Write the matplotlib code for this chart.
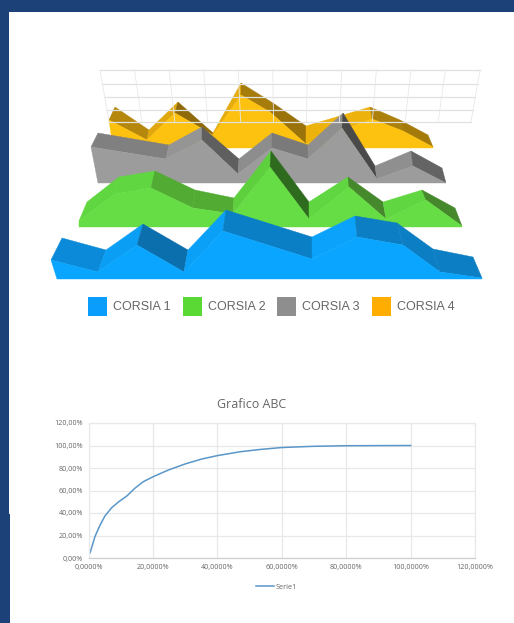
import matplotlib
matplotlib.use("Agg")
import matplotlib.pyplot as plt
from matplotlib.patches import Polygon, Rectangle
from matplotlib.ticker import FuncFormatter

W, H = 514, 623

# ridge lines, in image pixels
corsia1_front_x = [51, 98, 137, 184, 223, 312, 357, 403, 440, 482]
corsia1_front_y = [260, 272, 245, 272, 231, 259, 237, 245, 272, 278]
corsia1_back_x = [62, 106, 143, 188, 226, 312, 355, 397, 433, 473]
corsia1_back_y = [238, 250, 224, 250, 210, 237, 216, 223, 249, 257]

corsia2_front_x = [79, 115, 151, 193, 233, 270, 309, 349, 386, 426, 462]
corsia2_front_y = [221, 194, 188, 208, 214, 167, 219, 187, 219, 200, 226]
corsia2_back_x = [87, 119, 155, 195, 234, 271, 309, 348, 383, 422, 455]
corsia2_back_y = [202, 177, 171, 190, 198, 151, 202, 177, 202, 190, 208]

corsia3_front_x = [91, 166, 202, 238, 272, 308, 342, 377, 413, 446]
corsia3_front_y = [147, 159, 140, 174, 148, 159, 128, 179, 166, 183]
corsia3_back_x = [98, 169, 202, 239, 272, 308, 343, 375, 411, 442]
corsia3_back_y = [133, 145, 127, 159, 133, 145, 113, 166, 151, 168]

corsia4_front_x = [109, 147, 175, 213, 241, 270, 306, 372, 403, 433]
corsia4_front_y = [120, 140, 113, 135, 95, 112, 144, 119, 131, 147]
corsia4_back_x = [115, 149, 178, 213, 241, 273, 306, 370, 400, 428]
corsia4_back_y = [107, 130, 102, 133, 83, 103, 126, 107, 120, 135]

legend_names = ["CORSIA 1", "CORSIA 2", "CORSIA 3", "CORSIA 4"]

# cumulative curve of the ABC chart, in percent
abc_x = [0.5, 2, 3.6, 5.1, 7.2, 9.3, 11.9, 14.4, 17, 20.1, 24.8, 30, 35.2, 40, 47, 53, 60, 70, 80, 100]
abc_y = [4.7, 19, 29.3, 37.3, 44.7, 49.8, 55.1, 62, 67.8, 72.3, 78.2, 83.6, 88, 91, 94.4, 96.4, 98.2, 99.3, 99.8, 100]
abc_ticks_x = [0, 20, 40, 60, 80, 100, 120]
abc_ticks_y = [0, 20, 40, 60, 80, 100, 120]

navy = "#1c4078"
blue_top = ["#0a8ad8", "#0a9ff5", "#0b6fae", "#0aa0f7", "#0a7fc6", "#0aa2fa", "#0c7ec4", "#0c7ec4", "#0c7ec4"]
green_top = ["#60d640", "#60d640", "#52ab33", "#52ab33", "#5ed03e", "#2f6b1e", "#60d640", "#46882c", "#60d640", "#46882c"]
gray_top = ["#808080", "#959595", "#5f5f5f", "#8d8d8d", "#7a7a7a", "#8f8f8f", "#4a4a4a", "#8f8f8f", "#646464"]
amber_top = ["#b5870c", "#e0a80e", "#8f6a0a", "#e5ac0d", "#a67c0b", "#9a730b", "#eeb20d", "#ab810c", "#a47b0b"]


def draw_area(ax, fx, fy, bx, by, base_left, base, face, tops):
    for i in range(len(fx) - 1):
        quad = [(bx[i], by[i]), (bx[i + 1], by[i + 1]), (fx[i + 1], fy[i + 1]), (fx[i], fy[i])]
        ax.add_patch(Polygon(quad, closed=True, fc=tops[i], ec=tops[i], lw=0.3))
    pts = list(zip(fx, fy)) + [(fx[-1], base), (base_left, base)]
    ax.add_patch(Polygon(pts, closed=True, fc=face, ec=face, lw=0.3))


fig = plt.figure(figsize=(W / 100, H / 100), dpi=100, facecolor=navy)

# whole figure canvas in image pixels, for the page and the 3D picture
bg = fig.add_axes([0, 0, 1, 1])
bg.set_xlim(0, W)
bg.set_ylim(H, 0)
bg.axis("off")
bg.add_patch(Rectangle((9, 12), W - 9, 502, fc="white", ec="none"))
bg.add_patch(Rectangle((10, 514), W - 10, H - 514, fc="white", ec="none"))

# back wall grid
wall_top = (100, 480, 70)
wall_bottom = (109, 471, 122)
n_cols = 11
wall_rows = [70, 84, 97, 110, 122]
for yy in wall_rows:
    t = (yy - wall_top[2]) / (wall_bottom[2] - wall_top[2])
    x0 = wall_top[0] + t * (wall_bottom[0] - wall_top[0])
    x1 = wall_top[1] + t * (wall_bottom[1] - wall_top[1])
    bg.plot([x0, x1], [yy, yy], color="#e0e0e0", lw=0.9)
for i in range(n_cols + 1):
    xt = wall_top[0] + i * (wall_top[1] - wall_top[0]) / n_cols
    xb = wall_bottom[0] + i * (wall_bottom[1] - wall_bottom[0]) / n_cols
    bg.plot([xt, xb], [70, 122], color="#e8e8e8", lw=0.6)

draw_area(bg, corsia4_front_x, corsia4_front_y, corsia4_back_x, corsia4_back_y, 113, 148, "#fdc10f", amber_top)
draw_area(bg, corsia3_front_x, corsia3_front_y, corsia3_back_x, corsia3_back_y, 98, 183, "#9c9c9c", gray_top)
draw_area(bg, corsia2_front_x, corsia2_front_y, corsia2_back_x, corsia2_back_y, 79, 227, "#66dd44", green_top)
draw_area(bg, corsia1_front_x, corsia1_front_y, corsia1_back_x, corsia1_back_y, 57, 279, "#0aa5ff", blue_top)

legend_colors = ["#0a9dfb", "#5ad934", "#8e8e8e", "#ffad00"]
legend_left = [88, 183, 277, 372]
for name, col, x in zip(legend_names, legend_colors, legend_left):
    bg.add_patch(Rectangle((x, 297), 18.5, 18.5, fc=col, ec="none"))
    bg.text(x + 25, 306.5, name, family="Liberation Sans", fontsize=9, color="#666666",
            ha="left", va="center")

# ABC chart
ax = fig.add_axes([88.5 / W, 1 - 558 / H, (475 - 88.5) / W, (558 - 423) / H])
ax.set_xlim(0, 120)
ax.set_ylim(0, 120)
ax.plot(abc_x, abc_y, color="#5a96c8", lw=1.1, label="Serie1")
ax.set_xticks(abc_ticks_x)
ax.set_yticks(abc_ticks_y)
ax.xaxis.set_major_formatter(FuncFormatter(lambda v, p: f"{v:.4f}%".replace(".", ",")))
ax.yaxis.set_major_formatter(FuncFormatter(lambda v, p: f"{v:.2f}%".replace(".", ",")))
ax.tick_params(length=0, labelsize=5.2, labelcolor="#666666", pad=4)
for lab in ax.get_xticklabels() + ax.get_yticklabels():
    lab.set_family("Open Sans")
ax.grid(color="#e8e8e8", lw=0.9)
ax.set_axisbelow(True)
for s in ax.spines.values():
    s.set_color("#e8e8e8")
    s.set_linewidth(0.9)
ax.spines["bottom"].set_color("#cfcfcf")
fig.text(251.5 / W, 1 - 404 / H, "Grafico ABC", family="Open Sans", fontsize=9,
         color="#666666", ha="center", va="center")
ax.legend(loc="center", bbox_to_anchor=(188 / 386.5, -0.215), frameon=False,
          prop={"family": "Open Sans", "size": 5.2}, labelcolor="#666666",
          handlelength=2.5, handletextpad=0.15)

fig.savefig("out.png", dpi=100, facecolor=navy)
